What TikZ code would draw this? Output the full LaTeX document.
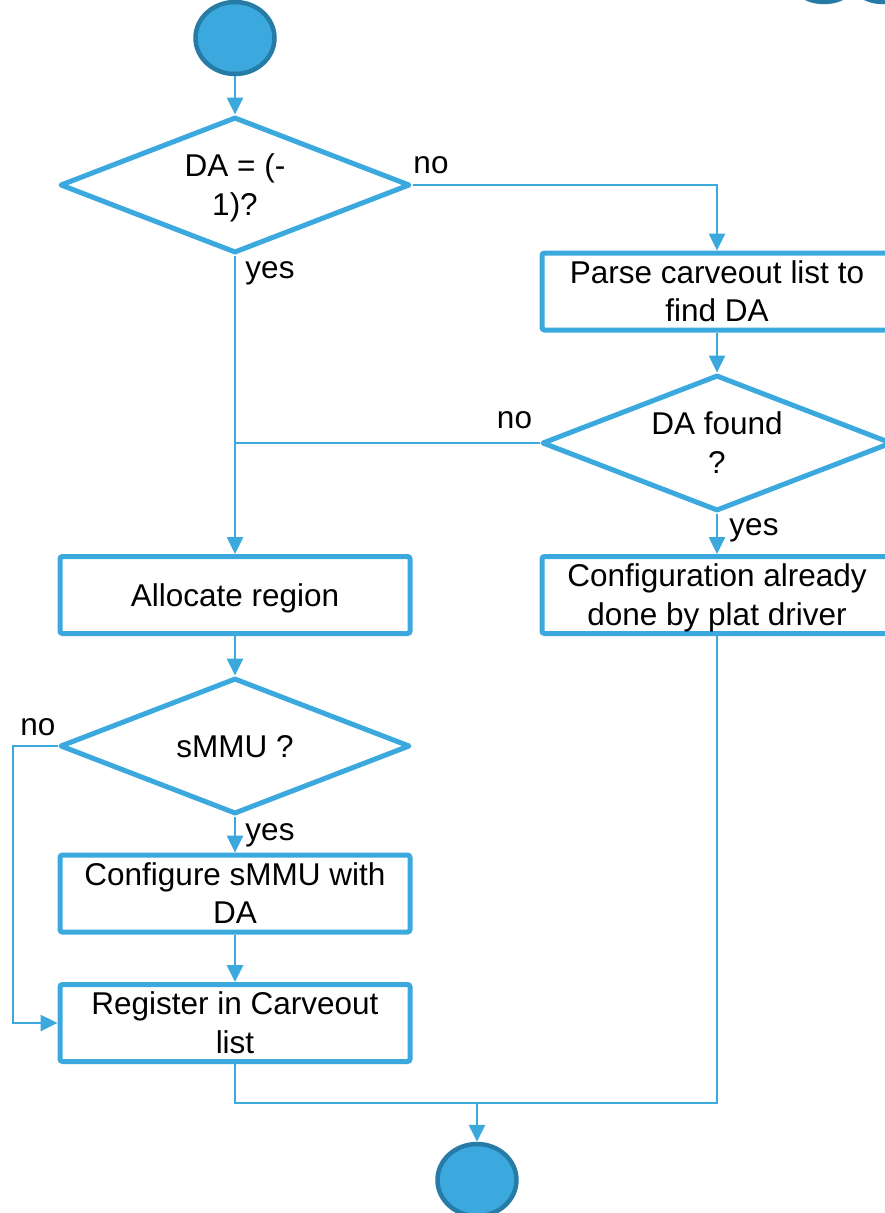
\documentclass[tikz,border=0pt]{standalone}
\usepackage{fontspec}
\setmainfont{Liberation Sans}
\usetikzlibrary{shapes.geometric,arrows.meta}
\definecolor{fcblue}{RGB}{59,169,222}
\definecolor{fcdark}{RGB}{38,124,166}
\newcommand\fcsz{\fontsize{31.5}{38.5}\selectfont}
\newcommand\fct[1]{\raisebox{-3.5pt}[\height][\depth]{\begin{tabular}{@{}c@{}}#1\end{tabular}}}
\tikzset{
  proc/.style={draw=fcblue, line width=5pt, rectangle, rounded corners=2.5pt, minimum width=350pt, minimum height=77pt, inner sep=0pt, font=\fcsz},
  dec/.style={draw=fcblue, line width=5pt, line join=round, diamond, aspect=2.57, minimum width=350pt, minimum height=136pt, inner sep=0pt, font=\fcsz},
  term/.style={ellipse, fill=fcblue, draw=fcdark, line width=4.5pt, minimum width=79pt, minimum height=72pt, inner sep=0pt},
  conn/.style={draw=fcblue, line width=2.6pt},
  arr/.style={conn, -{Triangle[length=17pt,width=16pt]}},
  lbl/.style={font=\fcsz, anchor=base, inner sep=0pt}
}
\begin{document}
\begin{tikzpicture}[x=1pt,y=-1pt]
\useasboundingbox (0,0) rectangle (885,1213);
\clip (0,0) rectangle (885,1213);
\fill[white] (0,0) rectangle (885,1213);

% decorative partial circles at top right
\node[term] (deco1) at (824,-34) {};
\node[term] (deco2) at (883,-34) {};

\node[term] (start) at (235,38) {};
\node[dec] (d1) at (235,185) {\fct{DA = (-\\1)?}};
\node[proc] (parse) at (717,291.5) {\fct{Parse carveout list to\\find DA}};
\node[dec] (d2) at (717,443) {\fct{DA found\\?}};
\node[proc] (alloc) at (235,595) {\fct{Allocate region}};
\node[proc] (cfg) at (717,595) {\fct{Configuration already\\done by plat driver}};
\node[dec] (d3) at (235,746) {\fct{sMMU ?}};
\node[proc] (smmu) at (235,893.5) {\fct{Configure sMMU with\\DA}};
\node[proc] (reg) at (235,1023) {\fct{Register in Carveout\\list}};
\node[term] (stop) at (477,1180) {};

\coordinate (lft) at (13,746);
\coordinate (mrg) at (477,1103);

\draw[arr] (start) -- (d1.north);
\draw[arr] (d1.east) -| (parse.north);
\draw[arr] (parse.south) -- (d2.north);
\draw[arr] (d1.south) -- (alloc.north);
\draw[conn] (d2.west) -- (d2.west -| d1.south);
\draw[arr] (d2.south) -- (cfg.north);
\draw[arr] (alloc.south) -- (d3.north);
\draw[arr] (d3.south) -- (smmu.north);
\draw[arr] (smmu.south) -- (reg.north);
\draw[arr] (d3.west) -- (lft) |- (reg.west);
\draw[conn] (reg.south) |- (mrg);
\draw[conn] (cfg.south) |- (mrg);
\draw[arr] (mrg) -- (stop.north);

\node[lbl] (l1) at (431,173) {no};
\node[lbl] (l2) at (270,278) {yes};
\node[lbl] (l3) at (514.5,428) {no};
\node[lbl] (l4) at (754,535) {yes};
\node[lbl] (l5) at (38,735) {no};
\node[lbl] (l6) at (270,840) {yes};
\end{tikzpicture}
\end{document}
